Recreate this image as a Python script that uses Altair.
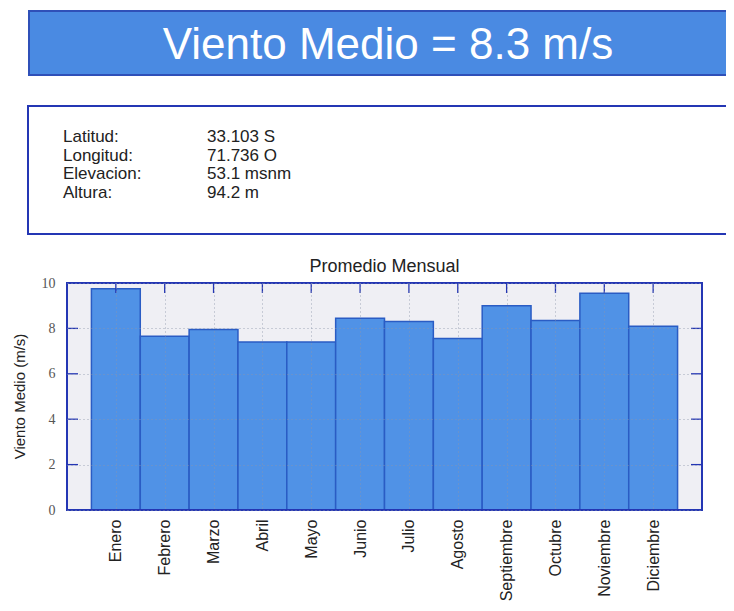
import json
import altair as alt
import pandas as pd

# ---- data ----
months = ["Enero", "Febrero", "Marzo", "Abril", "Mayo", "Junio", "Julio",
          "Agosto", "Septiembre", "Octubre", "Noviembre", "Diciembre"]
wind = [9.75, 7.65, 7.95, 7.4, 7.4, 8.45, 8.3, 7.55, 9.0, 8.35, 9.55, 8.1]
month_idx = list(range(1, 13))
y_ticks = [0, 2, 4, 6, 8, 10]

banner_text = "Viento Medio = 8.3 m/s"
info_labels = ["Latitud:", "Longitud:", "Elevacion:", "Altura:"]
info_values = ["33.103 S", "71.736 O", "53.1 msnm", "94.2 m"]
chart_title = "Promedio Mensual"
y_title = "Viento Medio (m/s)"

# ---- style ----
W, H = 635, 227
FRAME = "#2436b4"
BAR_FILL = "#5092e6"
BAR_EDGE = "#2a5cc4"
BANNER = "#4a8ae2"
TEXT = "#222222"
FONT = "Liberation Sans"

df = pd.DataFrame({"mes": months, "idx": month_idx, "v": wind})
label_expr = json.dumps(months) + "[datum.value - 1]"

x_scale = alt.Scale(domain=[0, 13], nice=False, zero=False)
y_scale = alt.Scale(domain=[0, 10], nice=False)

x_axis = alt.Axis(values=month_idx, labelExpr=label_expr, labelAngle=270, title=None,
                  grid=True, gridDash=[1, 3], gridColor="#8d96aa", gridOpacity=0.8,
                  tickSize=0, domain=False, labelFont=FONT, labelFontSize=16,
                  labelColor=TEXT, labelPadding=9, labelOverlap=False,
                  labelFlush=False, zindex=1)
y_axis = alt.Axis(values=y_ticks, grid=True, gridDash=[1, 3], gridColor="#8d96aa", title=None,
                  gridOpacity=0.8, tickSize=0, domain=False,
                  labelFont="Liberation Serif", labelFontSize=14, labelColor="#555",
                  labelPadding=12, labelFlush=False, zindex=1)

one = pd.DataFrame({"a": [0]})

banner = alt.Chart(one).mark_rect(fill=BANNER, stroke="#2f50b8", strokeWidth=2).encode(
    x=alt.value(-38), x2=alt.value(700), y=alt.value(-272), y2=alt.value(-208))

banner_txt = alt.Chart(pd.DataFrame({"t": [banner_text]})).mark_text(
    font=FONT, fontSize=44, color="white", align="center", baseline="middle"
).encode(x=alt.value(321), y=alt.value(-237), text="t:N")

info_box = alt.Chart(one).mark_rect(fill="white", stroke=FRAME, strokeWidth=2).encode(
    x=alt.value(-39), x2=alt.value(700), y=alt.value(-177), y2=alt.value(-49))

info_layers = []
row_y = [-146, -127.5, -109, -90.5]
for i in range(len(info_labels)):
    d = pd.DataFrame({"l": [info_labels[i]], "v": [info_values[i]]})
    info_layers.append(alt.Chart(d).mark_text(
        font=FONT, fontSize=17, color=TEXT, align="left", baseline="middle"
    ).encode(x=alt.value(-4), y=alt.value(row_y[i]), text="l:N"))
    info_layers.append(alt.Chart(d).mark_text(
        font=FONT, fontSize=17, color=TEXT, align="left", baseline="middle"
    ).encode(x=alt.value(140), y=alt.value(row_y[i]), text="v:N"))

title_txt = alt.Chart(pd.DataFrame({"t": [chart_title]})).mark_text(
    font=FONT, fontSize=18, color=TEXT, align="center", baseline="middle"
).encode(x=alt.value(W / 2), y=alt.value(-16), text="t:N")

ytitle_txt = alt.Chart(pd.DataFrame({"t": [y_title]})).mark_text(
    font=FONT, fontSize=15, color=TEXT, align="center", baseline="middle", angle=270
).encode(x=alt.value(-47), y=alt.value(H / 2), text="t:N")

bars = alt.Chart(df).transform_calculate(
    x0="datum.idx - 0.5", x1="datum.idx + 0.5"
).mark_bar(fill=BAR_FILL, stroke=BAR_EDGE, strokeWidth=1.5).encode(
    x=alt.X("x0:Q", scale=x_scale, axis=x_axis),
    x2="x1:Q",
    y=alt.Y("v:Q", scale=y_scale, axis=y_axis),
    y2=alt.datum(0),
)

tick_df = pd.DataFrame({"v": y_ticks})
yticks_left = alt.Chart(tick_df).mark_rule(color=FRAME, strokeWidth=1.3).encode(
    y=alt.Y("v:Q", scale=y_scale, axis=y_axis), x=alt.value(0), x2=alt.value(11))
yticks_right = alt.Chart(tick_df).mark_rule(color=FRAME, strokeWidth=1.3).encode(
    y=alt.Y("v:Q", scale=y_scale, axis=y_axis), x=alt.value(W - 11), x2=alt.value(W))

xt_df = pd.DataFrame({"x0": month_idx})
xticks_top = alt.Chart(xt_df).mark_rule(color=FRAME, strokeWidth=1.3).encode(
    x=alt.X("x0:Q", scale=x_scale, axis=x_axis), y=alt.value(0), y2=alt.value(10))

frame = alt.Chart(one).mark_rect(fillOpacity=0, stroke=FRAME, strokeWidth=2).encode(
    x=alt.value(0), x2=alt.value(W), y=alt.value(0), y2=alt.value(H))

chart = alt.layer(
    banner, banner_txt, info_box, *info_layers, title_txt, ytitle_txt,
    bars, yticks_left, yticks_right, xticks_top, frame
).properties(
    width=W, height=H,
    autosize=alt.AutoSizeParams(type="none"),
    padding={"left": 59, "top": 275, "right": 24, "bottom": 93},
    background="white",
).configure_view(fill="#efeff4", stroke=None)

chart.save("out.html", embed_options={"renderer": "svg", "actions": False})
